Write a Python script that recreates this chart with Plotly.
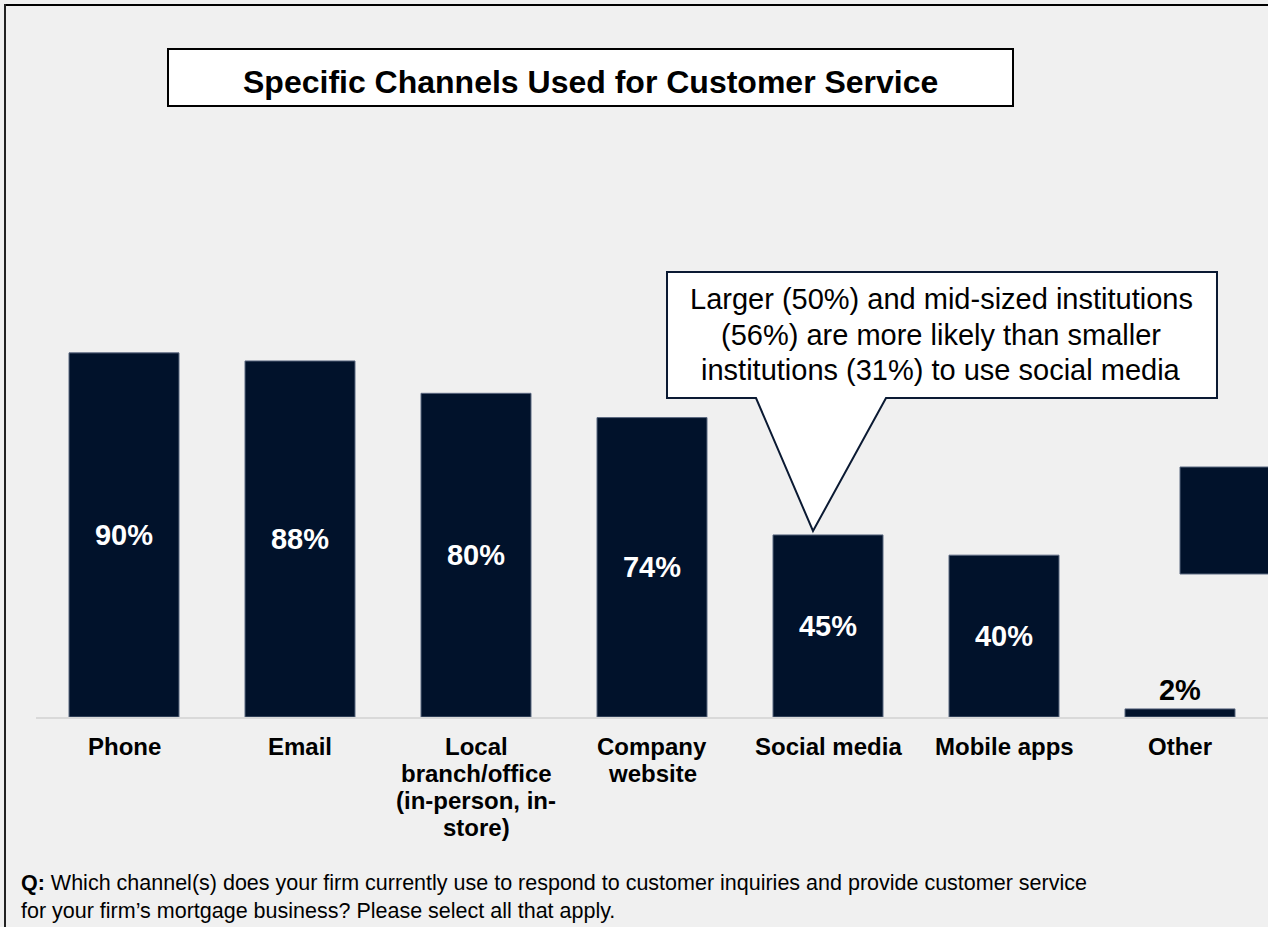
import plotly.graph_objects as go

# Survey results: share of firms using each customer-service channel
channels = ["Phone", "Email", "Local branch/office (in-person, in-store)",
            "Company website", "Social media", "Mobile apps", "Other"]
label_lines = [["Phone"], ["Email"],
               ["Local", "branch/office", "(in-person, in-", "store)"],
               ["Company", "website"], ["Social media"], ["Mobile apps"], ["Other"]]
shares = [90, 88, 80, 74, 45, 40, 2]
label_pos = ["inside", "inside", "inside", "inside", "inside", "inside", "outside"]

title_text = "Specific Channels Used for Customer Service"
callout_lines = ["Larger (50%) and mid-sized institutions",
                 "(56%) are more likely than smaller",
                 "institutions (31%) to use social media"]
footer_lines = ["<b>Q:</b> Which channel(s) does your firm currently use to respond to customer inquiries and provide customer service",
                "for your firm\u2019s mortgage business? Please select all that apply."]

NAVY = "#01122B"
FONT = "Liberation Sans, Arial, sans-serif"

W, H = 1268, 927
L, R, T, B = 36, 0, 312, 210


def px(x):
    return (x - L) / (W - L - R)


def py(y):
    return (H - B - y) / (H - T - B)


fig = go.Figure(go.Bar(
    x=channels, y=shares,
    marker=dict(color=NAVY, line=dict(color="#5B6880", width=1)),
    texttemplate="<b>%{y}%</b>",
    textposition=label_pos,
    insidetextanchor="middle",
    textangle=0,
    constraintext="none",
    insidetextfont=dict(family=FONT, size=29, color="white"),
    outsidetextfont=dict(family=FONT, size=29, color="black"),
    cliponaxis=False,
    hoverinfo="skip",
))

shapes = [
    # frame edges
    dict(type="line", xref="paper", yref="paper", x0=px(4), x1=px(1268), y0=py(5), y1=py(5),
         line=dict(color="#000000", width=2)),
    dict(type="line", xref="paper", yref="paper", x0=px(5), x1=px(5), y0=py(4), y1=py(927),
         line=dict(color="#222222", width=2)),
    # title box
    dict(type="rect", xref="paper", yref="paper", x0=px(168), x1=px(1013), y0=py(49), y1=py(106),
         fillcolor="white", line=dict(color="#000000", width=2), layer="below"),
    # navy accent block on the right edge
    dict(type="rect", xref="paper", yref="paper", x0=px(1180), x1=px(1270), y0=py(467), y1=py(574),
         fillcolor=NAVY, line=dict(color="#5B6880", width=1)),
]

# speech-bubble callout pointing at the social media bar
pts = [(667, 272), (1217, 272), (1217, 398), (886, 398), (813, 531), (756, 398), (667, 398)]
path = "M " + " L ".join(f"{px(a):.5f},{py(b):.5f}" for a, b in pts) + " Z"
shapes.append(dict(type="path", xref="paper", yref="paper", path=path,
                   fillcolor="white", line=dict(color="#0B1A33", width=2)))

annotations = [dict(text=f"<b>{title_text}</b>", xref="paper", yref="paper",
                    x=px(590), y=py(82), xanchor="center", yanchor="middle", showarrow=False,
                    font=dict(family=FONT, size=32, color="black"))]

for i, line in enumerate(callout_lines):
    annotations.append(dict(text=line, xref="paper", yref="paper",
                            x=px(941), y=py(299 + 35.5 * i), xanchor="center", yanchor="middle",
                            showarrow=False, font=dict(family=FONT, size=29, color="black")))

for cat, lines in zip(channels, label_lines):
    for j, line in enumerate(lines):
        annotations.append(dict(text=f"<b>{line}</b>", xref="x", yref="paper",
                                x=cat, y=py(746 + 27 * j), xanchor="center", yanchor="middle",
                                showarrow=False, font=dict(family=FONT, size=24, color="black")))

# survey question, two lines in one block
annotations.append(dict(text="<br>".join(footer_lines), xref="paper", yref="paper",
                        x=px(19), y=py(897), xanchor="left", yanchor="middle", align="left",
                        showarrow=False, font=dict(family=FONT, size=21.5, color="black")))

fig.update_layout(
    width=W, height=H,
    margin=dict(l=L, r=R, t=T, b=B, pad=0),
    paper_bgcolor="#F0F0F0",
    plot_bgcolor="#F0F0F0",
    bargap=0.375,
    showlegend=False,
    shapes=shapes,
    annotations=annotations,
    xaxis=dict(showticklabels=False, ticks="", showgrid=False, zeroline=False,
               showline=True, linecolor="#D9D9D9", linewidth=2, fixedrange=True),
    yaxis=dict(range=[0, 100.1], visible=False, showgrid=False, zeroline=False, fixedrange=True),
)

fig.write_html("out.html")
